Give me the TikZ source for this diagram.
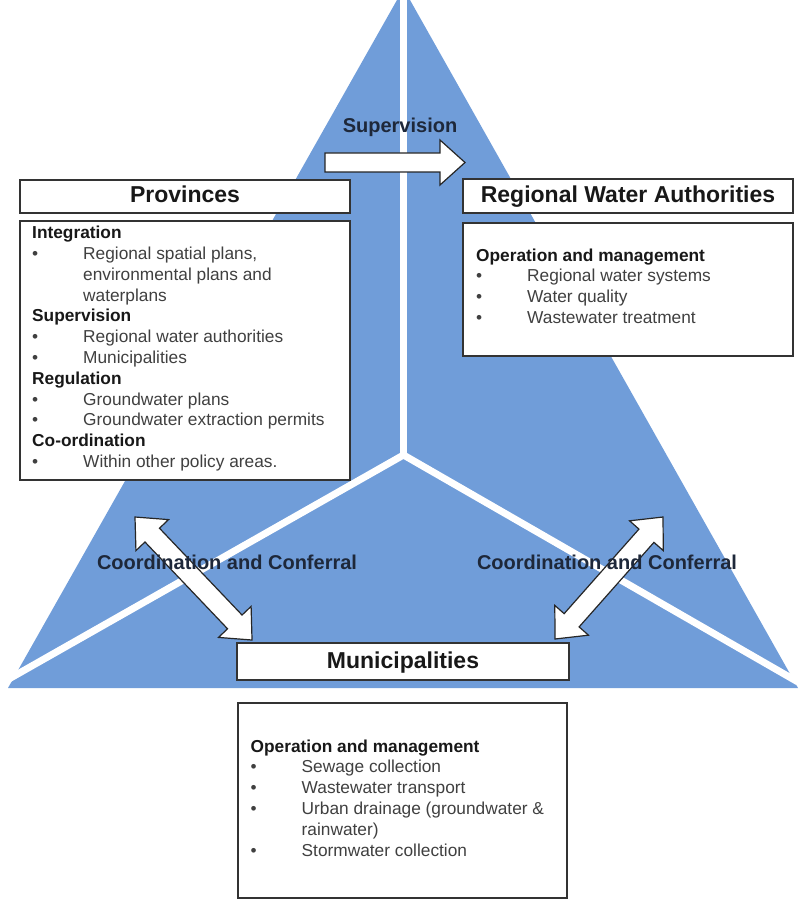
\documentclass[tikz,border=0pt]{standalone}
\usepackage{fontspec}
\setmainfont{Liberation Sans}

\definecolor{triblue}{RGB}{112,157,217}
\definecolor{labelnavy}{RGB}{30,40,58}
\definecolor{bodygray}{RGB}{64,64,64}
\definecolor{headblack}{RGB}{24,24,24}

% list rows: bullet column and continuation indent
\newcommand\bulletcell{\makebox[51pt][l]{\textbullet}}
\newcommand\indentcell{\hspace*{51pt}}
\newcommand\listhead[1]{{\bfseries\color{headblack}#1}}

% block arrow with a head at each end, laid along the local x axis
\newcommand\twowayblock[1]{%
  \draw[blockarrow] (0,0) -- (25,22.5) -- (25,10) -- (#1-25,10) -- (#1-25,22.5)
    -- (#1,0) -- (#1-25,-22.5) -- (#1-25,-10) -- (25,-10) -- (25,-22.5) -- cycle;}

\tikzset{
  headbox/.style={draw=black!80, line width=1.5pt, fill=white, inner sep=0pt,
    text height=16pt, text depth=3pt, text=headblack,
    font=\fontsize{23}{27}\selectfont\bfseries},
  listbox/.style={draw=black!80, line width=1.5pt, fill=white, inner sep=0pt},
  listtext/.style={inner sep=0pt, anchor=base west, text=bodygray,
    font=\fontsize{17.3}{20.8}\selectfont},
  flowlabel/.style={inner sep=0pt, anchor=base, text=labelnavy,
    font=\fontsize{20}{24}\selectfont\bfseries},
  blockarrow/.style={draw=black!85, line width=1.2pt, fill=white, line join=miter},
  divider/.style={draw=white, line width=7pt, line join=miter},
}

\begin{document}
\begin{tikzpicture}[x=1pt, y=-1pt]
\useasboundingbox (0,0) rectangle (798,901);

% blue triangle split into three sectors
\begin{scope}
  \clip (0,0) rectangle (798,901);
  \fill[triblue] (403.5,-11.5) -- (8,688) -- (798,688) -- cycle;
  \draw[divider] (403.5,-20) -- (403.5,455);
  \draw[divider] (0,684) -- (403.5,455) -- (798,682);
\end{scope}

% supervision arrow
\draw[blockarrow] (325,153) -- (440,153) -- (440,140) -- (465,162.5)
  -- (440,185) -- (440,172) -- (325,172) -- cycle;

% coordination arrows
\begin{scope}[shift={(135,517)}, rotate=-46.43]
  \twowayblock{169.8}
\end{scope}
\begin{scope}[shift={(663,517)}, rotate=-131.5]
  \twowayblock{162.9}
\end{scope}

% Provinces
\node[headbox, minimum width=330pt, minimum height=33pt] (prov-head) at (185,196.5) {Provinces};
\node[listbox, minimum width=330pt, minimum height=259pt] (prov-list) at (185,350.5) {};
\node[listtext] (prov-text) at (32,238.7) {%
  \begin{tabular}[t]{@{}l@{}}
  \listhead{Integration}\\
  \bulletcell Regional spatial plans,\\
  \indentcell environmental plans and\\
  \indentcell waterplans\\
  \listhead{Supervision}\\
  \bulletcell Regional water authorities\\
  \bulletcell Municipalities\\
  \listhead{Regulation}\\
  \bulletcell Groundwater plans\\
  \bulletcell Groundwater extraction permits\\
  \listhead{Co-ordination}\\
  \bulletcell Within other policy areas.
  \end{tabular}};

% Regional Water Authorities
\node[headbox, minimum width=330pt, minimum height=34pt] (rwa-head) at (628,196) {Regional Water Authorities};
\node[listbox, minimum width=330pt, minimum height=133pt] (rwa-list) at (628,289.5) {};
\node[listtext] (rwa-text) at (476,261) {%
  \begin{tabular}[t]{@{}l@{}}
  \listhead{Operation and management}\\
  \bulletcell Regional water systems\\
  \bulletcell Water quality\\
  \bulletcell Wastewater treatment
  \end{tabular}};

% Municipalities
\node[headbox, minimum width=332pt, minimum height=37pt] (muni-head) at (403,661.5) {Municipalities};
\node[listbox, minimum width=329pt, minimum height=195pt] (muni-list) at (402.5,800.5) {};
\node[listtext] (muni-text) at (250.5,752) {%
  \begin{tabular}[t]{@{}l@{}}
  \listhead{Operation and management}\\
  \bulletcell Sewage collection\\
  \bulletcell Wastewater transport\\
  \bulletcell Urban drainage (groundwater \&\\
  \indentcell rainwater)\\
  \bulletcell Stormwater collection
  \end{tabular}};

% relation labels
\node[flowlabel] (sup-label) at (400,133) {Supervision};
\node[flowlabel] (coord-left) at (227,569) {Coordination and Conferral};
\node[flowlabel] (coord-right) at (607,569) {Coordination and Conferral};

\end{tikzpicture}
\end{document}
